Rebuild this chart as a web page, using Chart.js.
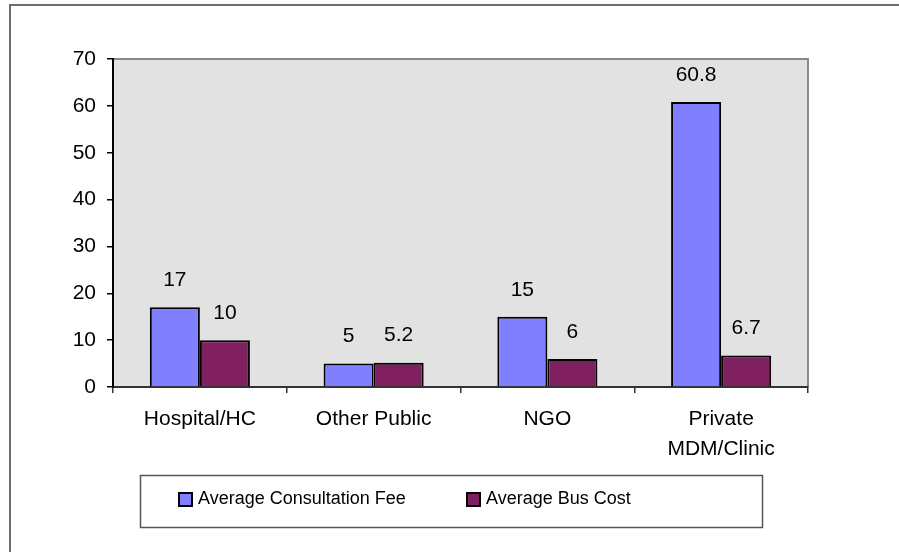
<!DOCTYPE html>
<html>
<head>
<meta charset="utf-8">
<script src="https://cdn.jsdelivr.net/npm/chart.js@4"></script>
<style>
  html, body { margin: 0; padding: 0; background: #fff; }
  #wrap { width: 899px; height: 552px; position: relative; }
</style>
</head>
<body>
<div id="wrap"><canvas id="chart" width="899" height="552"></canvas></div>
<script>
const categories = ['Hospital/HC', 'Other Public', 'NGO', ['Private', 'MDM/Clinic']];
const consultationFee = [17, 5, 15, 60.8];
const busCost = [10, 5.2, 6, 6.7];
const seriesNames = ['Average Consultation Fee', 'Average Bus Cost'];
const yTicks = [0, 10, 20, 30, 40, 50, 60, 70];

const FONT = 'Liberation Sans, Arial, sans-serif';

// frame, grey plot area and its top/right edges
const backdrop = {
  id: 'backdrop',
  beforeDraw(chart) {
    const { ctx, chartArea: a } = chart;
    ctx.save();
    ctx.strokeStyle = '#6e6e6e';
    ctx.lineWidth = 2;
    ctx.beginPath();
    ctx.moveTo(10, 552);
    ctx.lineTo(10, 5);
    ctx.lineTo(899, 5);
    ctx.stroke();
    ctx.fillStyle = '#e2e2e2';
    ctx.fillRect(a.left, a.top, a.right - a.left, a.bottom - a.top);
    ctx.strokeStyle = '#8a8a8a';
    ctx.beginPath();
    ctx.moveTo(a.left, a.top);
    ctx.lineTo(a.right, a.top);
    ctx.lineTo(a.right, a.bottom);
    ctx.stroke();
    ctx.restore();
  }
};

// numbers above bars
const valueLabels = {
  id: 'valueLabels',
  afterDatasetsDraw(chart) {
    const { ctx } = chart;
    ctx.save();
    ctx.font = '21px ' + FONT;
    ctx.fillStyle = '#000';
    ctx.textAlign = 'center';
    ctx.textBaseline = 'middle';
    chart.data.datasets.forEach((ds, i) => {
      chart.getDatasetMeta(i).data.forEach((bar, j) => {
        ctx.fillText(String(ds.data[j]), bar.x, bar.y - 27);
      });
    });
    ctx.restore();
  }
};

// boxed legend under the chart
const boxLegend = {
  id: 'boxLegend',
  afterDraw(chart) {
    const { ctx } = chart;
    ctx.save();
    ctx.strokeStyle = '#555';
    ctx.lineWidth = 1.5;
    ctx.strokeRect(140.5, 475.5, 622, 52);
    const xs = [179, 467];
    ctx.font = '18px ' + FONT;
    ctx.textBaseline = 'middle';
    chart.data.datasets.forEach((ds, i) => {
      ctx.fillStyle = ds.backgroundColor;
      ctx.fillRect(xs[i], 493, 13, 13);
      ctx.strokeStyle = '#000';
      ctx.lineWidth = 2;
      ctx.strokeRect(xs[i], 493, 13, 13);
      ctx.fillStyle = '#000';
      ctx.fillText(ds.label, xs[i] + 19, 499);
    });
    ctx.restore();
  }
};

new Chart(document.getElementById('chart'), {
  type: 'bar',
  data: {
    labels: categories,
    datasets: [
      { label: seriesNames[0], data: consultationFee, backgroundColor: '#8080ff', borderColor: '#000', borderWidth: 2 },
      { label: seriesNames[1], data: busCost, backgroundColor: '#802060', borderColor: '#000', borderWidth: 2 }
    ]
  },
  options: {
    responsive: false,
    animation: false,
    layout: { padding: { top: 59, right: 91, left: 0, bottom: 0 } },
    datasets: { bar: { categoryPercentage: 0.576, barPercentage: 1.0 } },
    plugins: { legend: { display: false }, tooltip: { enabled: false } },
    scales: {
      x: {
        grid: { offset: true, drawOnChartArea: false, drawTicks: true, tickLength: 6, color: '#333', lineWidth: 1.5 },
        border: { color: '#333', width: 2 },
        ticks: { color: '#000', padding: 11, font: { family: FONT, size: 21, lineHeight: 1.45 }, maxRotation: 0, autoSkip: false },
        afterFit(s) { s.height = 165; }
      },
      y: {
        min: 0,
        max: 70,
        afterBuildTicks(s) { s.ticks = yTicks.map(v => ({ value: v })); },
        grid: { drawOnChartArea: false, drawTicks: true, tickLength: 6, color: '#000', lineWidth: 1.5 },
        border: { color: '#000', width: 2 },
        ticks: { color: '#000', padding: 11, font: { family: FONT, size: 21 } },
        afterFit(s) { s.width = 113; }
      }
    }
  },
  plugins: [backdrop, valueLabels, boxLegend]
});
</script>
</body>
</html>
